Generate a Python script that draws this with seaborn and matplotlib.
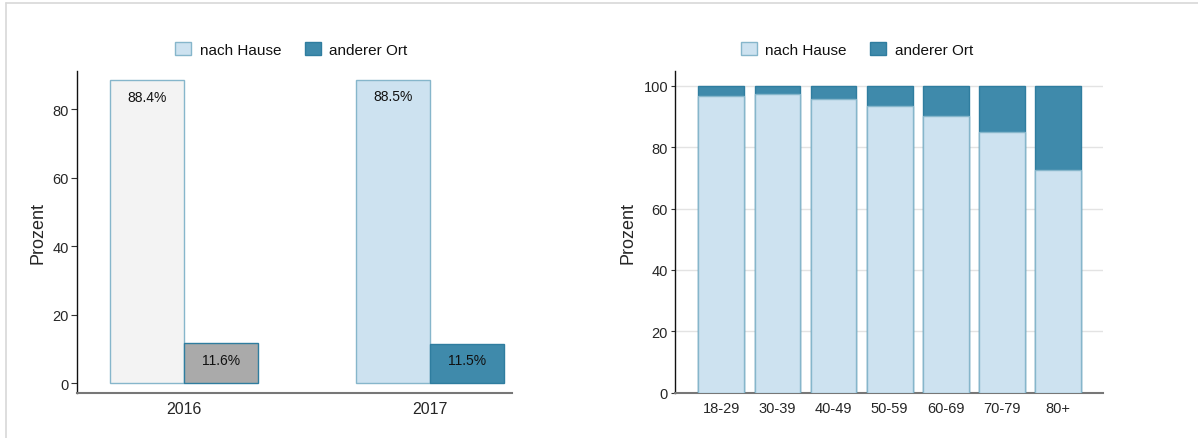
import numpy as np
import pandas as pd
import matplotlib
matplotlib.use('Agg')
import matplotlib.pyplot as plt
import seaborn as sns
from matplotlib.patches import Patch
from matplotlib.lines import Line2D

# data
years = ['2016', '2017']
destinations = ['nach Hause', 'anderer Ort']
home_by_year = [88.4, 88.5]
other_by_year = [11.6, 11.5]

age_groups = ['18-29', '30-39', '40-49', '50-59', '60-69', '70-79', '80+']
home_by_age = [96.6, 97.4, 95.7, 93.3, 90.2, 84.8, 72.6]
total_by_age = [100, 100, 100, 100, 100, 100, 100]

light = '#cde2f0'
light_edge = '#86b6cb'
dark = '#3f8aab'
dark_edge = '#2f7d9f'
grey_light = '#f3f3f3'
grey_dark = '#aaaaaa'

sns.set_style('white')
plt.rcParams['font.family'] = ['Liberation Sans', 'DejaVu Sans']
plt.rcParams['text.color'] = '#111111'

fig = plt.figure(figsize=(11.98, 4.39), dpi=100)
ax1 = fig.add_axes([0.0643, 0.1025, 0.3631, 0.7342])
ax2 = fig.add_axes([0.5634, 0.1032, 0.3573, 0.7335])

# ---- left: grouped bars per year
df_year = pd.DataFrame({
    'Jahr': years * 2,
    'Ziel': [destinations[0]] * 2 + [destinations[1]] * 2,
    'Prozent': home_by_year + other_by_year,
})
sns.barplot(data=df_year, x='Jahr', y='Prozent', hue='Ziel', hue_order=destinations,
            palette=[light, dark], saturation=1, width=0.6, legend=False, ax=ax1)

fills = [[grey_light, light], [grey_dark, dark]]
edges = [[light_edge, light_edge], [dark_edge, dark_edge]]
for i, cont in enumerate(ax1.containers):
    for j, bar in enumerate(cont):
        bar.set_facecolor(fills[i][j])
        bar.set_edgecolor(edges[i][j])
        bar.set_linewidth(1.0)
        h = bar.get_height()
        ax1.text(bar.get_x() + bar.get_width() / 2, h - 4.8, f'{h:.1f}%',
                 ha='center', va='center', fontsize=10)

ax1.set_xlim(-0.435, 1.333)
ax1.set_ylim(-2.9, 91.2)
ax1.set_yticks([0, 20, 40, 60, 80])
ax1.set_xlabel('')
ax1.set_ylabel('Prozent', fontsize=13, labelpad=4)
ax1.tick_params(axis='y', left=True, length=4, width=0.8, color='#333333', labelsize=10.5, pad=2)
ax1.tick_params(axis='x', length=0, labelsize=11.5, pad=6)

# ---- right: stacked bars by age group
df_age = pd.DataFrame({'Alter': age_groups, 'gesamt': total_by_age, 'nach Hause': home_by_age})
sns.barplot(data=df_age, x='Alter', y='gesamt', color=dark, saturation=1, width=0.82,
            edgecolor=dark_edge, linewidth=1.0, ax=ax2)
sns.barplot(data=df_age, x='Alter', y='nach Hause', color=light, saturation=1, width=0.82,
            edgecolor=light_edge, linewidth=1.0, ax=ax2)
for bar in ax2.patches:
    bar.set_zorder(3)

ax2.set_xlim(-0.83, 6.81)
ax2.set_ylim(0, 104.9)
ax2.set_yticks([0, 20, 40, 60, 80, 100])
ax2.yaxis.grid(True, color='#e3e3e3', linewidth=1.0)
ax2.set_axisbelow(True)
ax2.set_xlabel('')
ax2.set_ylabel('Prozent', fontsize=13, labelpad=5)
ax2.tick_params(axis='y', left=True, length=3, width=0.8, color='#333333', labelsize=10.5, pad=2)
ax2.tick_params(axis='x', length=0, labelsize=10.5, pad=6)

for ax in (ax1, ax2):
    for side in ('top', 'right'):
        ax.spines[side].set_visible(False)
    ax.spines['left'].set_color('#111111')
    ax.spines['left'].set_linewidth(1.0)
    ax.spines['bottom'].set_color('#777777')
    ax.spines['bottom'].set_linewidth(1.5)

handles = [Patch(facecolor=light, edgecolor=light_edge, label=destinations[0]),
           Patch(facecolor=dark, edgecolor=dark_edge, label=destinations[1])]
leg_kw = dict(ncol=2, frameon=False, fontsize=11, handlelength=1.05, handleheight=1.0,
              handletextpad=0.55, columnspacing=1.55, loc='center')
ax1.legend(handles=handles, bbox_to_anchor=(0.493, 1.067), **leg_kw)
ax2.legend(handles=handles, bbox_to_anchor=(0.425, 1.067), **leg_kw)

# light frame around the chart
fig.add_artist(Line2D([0.005, 1.0], [0.991, 0.991], color='#d8d8d8', lw=1.2, transform=fig.transFigure))
fig.add_artist(Line2D([0.005, 0.005], [0.0, 0.991], color='#d8d8d8', lw=1.2, transform=fig.transFigure))

fig.savefig('out.png', dpi=100)
